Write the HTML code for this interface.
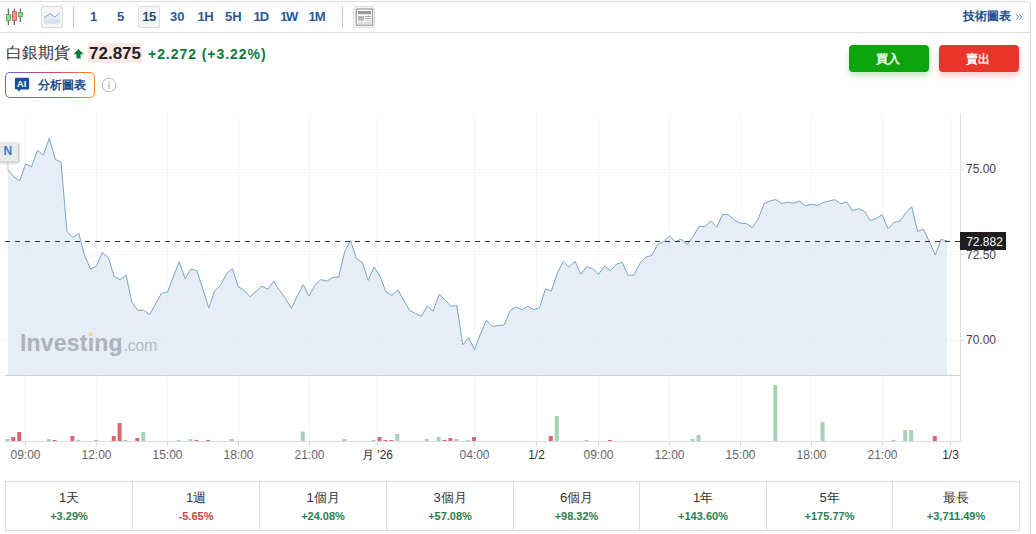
<!DOCTYPE html>
<html><head><meta charset="utf-8">
<style>
*{box-sizing:border-box;margin:0;padding:0}
html,body{width:1036px;height:534px;overflow:hidden;background:#fff}
body{font-family:"Liberation Sans",sans-serif;position:relative;color:#333}
.abs{position:absolute}
.frame{position:absolute;left:-5px;top:1px;width:1036px;height:600px;border:1px solid #dcdcdc;border-top-right-radius:5px}
.tb{position:absolute;left:0;top:32px;width:1030px;height:1px;background:#dcdcdc}
.tf{position:absolute;top:10px;font-size:13px;font-weight:bold;color:#2a5a95;line-height:13px;white-space:nowrap}
.sep{position:absolute;top:6px;width:1px;height:22px;background:#c8c8c8}
.btn15{position:absolute;left:138px;top:6px;width:22px;height:22px;border:1px solid #dcdcdc;border-radius:2px;background:#f6f6f7}
.ylab{position:absolute;left:966px;font-size:12px;color:#444;line-height:12px}
.xlab{position:absolute;top:449px;font-size:12px;color:#666;line-height:12px;white-space:nowrap;transform:translateX(-50%)}
.xlab.d{color:#333}
.cell{position:absolute;top:481px;height:50px;text-align:center}
.cell .p{font-size:13px;color:#333;margin-top:9px;line-height:15px}
.cell .v{font-size:11px;font-weight:bold;color:#2a8050;margin-top:4.5px;line-height:13px}
.cell .v.n{color:#c9453a}
</style></head><body>
<div class="frame"></div>
<div class="tb"></div>

<!-- candle icon -->
<svg class="abs" style="left:0;top:0" width="40" height="32" viewBox="0 0 40 32">
 <line x1="8.3" y1="8.5" x2="8.3" y2="25" stroke="#444" stroke-width="1"/>
 <rect x="6.4" y="14.5" width="4" height="6.2" fill="#92d992" stroke="#52a852" stroke-width="0.8"/>
 <line x1="14.3" y1="8.5" x2="14.3" y2="25" stroke="#444" stroke-width="1"/>
 <rect x="12.4" y="11.6" width="4" height="9" fill="#f79090" stroke="#d45555" stroke-width="0.8"/>
 <line x1="20.3" y1="8.5" x2="20.3" y2="22" stroke="#444" stroke-width="1"/>
 <rect x="18.4" y="12.4" width="4" height="4.3" fill="#92d992" stroke="#52a852" stroke-width="0.8"/>
</svg>
<!-- line chart button -->
<div class="abs" style="left:41px;top:6px;width:22px;height:22px;border:1px solid #dcdcdc;border-radius:2px;background:#f4f5f6"></div>
<svg class="abs" style="left:41px;top:6px" width="22" height="22" viewBox="41 6 22 22">
 <path d="M44,17.8 L50.2,13.7 L54.8,17.1 L59.8,12.7 L59.8,23.2 L44,23.2 Z" fill="#e6ecf5"/>
 <rect x="44" y="19" width="15.8" height="4.2" fill="#dae3ef"/>
 <line x1="44" y1="22.8" x2="59.8" y2="22.8" stroke="#cbd6e6" stroke-width="0.8"/>
 <path d="M44,17.8 L50.2,13.7 L54.8,17.1 L59.8,12.7" fill="none" stroke="#8aa6ca" stroke-width="1"/>
</svg>
<div class="sep" style="left:73px"></div>
<div class="btn15"></div>
<div class="tf" style="left:90px">1</div>
<div class="tf" style="left:117px">5</div>
<div class="tf" style="left:142.3px;letter-spacing:-0.6px;color:#1d4f86">15</div>
<div class="tf" style="left:170px">30</div>
<div class="tf" style="left:197.6px;letter-spacing:-0.6px">1H</div>
<div class="tf" style="left:225px">5H</div>
<div class="tf" style="left:253.4px;letter-spacing:-0.9px">1D</div>
<div class="tf" style="left:280.2px;letter-spacing:-1.4px">1W</div>
<div class="tf" style="left:308.4px;letter-spacing:-0.9px">1M</div>
<div class="sep" style="left:342px"></div>
<!-- layout icon -->
<div class="abs" style="left:353px;top:6px;width:22px;height:22px;border:1px solid #dcdcdc;border-radius:3px;background:#f4f5f6"></div>
<svg class="abs" style="left:353px;top:6px" width="22" height="22" viewBox="353 6 22 22">
 <rect x="356.3" y="9" width="16.2" height="16.2" fill="#fff" stroke="#9a9a9a" stroke-width="1.2"/>
 <rect x="358" y="11" width="13" height="3.3" fill="#9a9a9a"/>
 <rect x="358" y="16" width="5.8" height="4.8" fill="#b5b5b5"/>
 <rect x="365" y="16" width="6" height="0.9" fill="#9a9a9a"/>
 <rect x="365" y="18.1" width="6" height="0.9" fill="#9a9a9a"/>
 <rect x="365" y="20.2" width="6" height="0.9" fill="#bbb"/>
 <rect x="358" y="22.2" width="13" height="1.4" fill="#ccc"/>
</svg>
<div class="tf" style="left:962.7px;top:10px;font-size:12px;color:#1d4e8c">技術圖表</div>
<svg class="abs" style="left:1014px;top:12px" width="10" height="10" viewBox="0 0 10 10">
 <path d="M2.2,2.2 L4.6,5 L2.2,7.8 M5.2,2.2 L7.6,5 L5.2,7.8" fill="none" stroke="#4a74aa" stroke-width="0.9"/>
</svg>

<!-- title row -->
<div class="abs" style="left:6px;top:44px;font-size:16px;color:#333;line-height:18px">白銀期貨</div>
<svg class="abs" style="left:73px;top:48px" width="12" height="12" viewBox="0 0 12 12">
 <path d="M5.5,1 L10.5,6.3 L7.6,6.3 L7.6,10.5 L3.4,10.5 L3.4,6.3 L0.5,6.3 Z" fill="#0b7a34"/>
</svg>
<div class="abs" style="left:88px;top:43px;width:54px;height:20px;background:#fbe9e6"></div>
<div class="abs" style="left:89px;top:45px;font-size:17px;font-weight:bold;color:#222;line-height:17px">72.875</div>
<div class="abs" style="left:148px;top:46px;font-size:14px;font-weight:bold;color:#0b7a3a;line-height:16px;white-space:nowrap;letter-spacing:0.95px">+2.272 (+3.22%)</div>

<!-- AI button -->
<div class="abs" style="left:5px;top:72px;width:90px;height:26px;border-radius:5px;background:linear-gradient(90deg,#6c5ce7,#d9475f 55%,#f08c2c);padding:1px">
 <div style="width:100%;height:100%;background:#fff;border-radius:4px"></div>
</div>
<svg class="abs" style="left:14px;top:77px" width="16" height="16" viewBox="0 0 16 16">
 <path d="M2,0.8 L14,0.8 Q15.1,0.8 15.1,1.9 L15.1,11.3 Q15.1,12.4 14,12.4 L7,12.4 L4.2,14.8 L3.8,12.4 L2,12.4 Q0.9,12.4 0.9,11.3 L0.9,1.9 Q0.9,0.8 2,0.8 Z" fill="#1a5194"/>
 <text x="7.6" y="9.8" font-family="Liberation Sans" font-size="9.3" font-weight="bold" fill="#fff" text-anchor="middle">AI</text>
</svg>
<div class="abs" style="left:38px;top:78px;font-size:12px;font-weight:bold;color:#1d4e8c;line-height:14px">分析圖表</div>
<svg class="abs" style="left:101px;top:77px" width="16" height="16" viewBox="0 0 16 16">
 <circle cx="8" cy="8" r="6.8" fill="none" stroke="#b5b5b5" stroke-width="1"/>
 <rect x="7.4" y="6.8" width="1.3" height="5" fill="#b5b5b5"/>
 <rect x="7.4" y="4.2" width="1.3" height="1.4" fill="#b5b5b5"/>
</svg>

<!-- buy/sell -->
<div class="abs" style="left:849px;top:45px;width:80px;height:27px;border-radius:4px;background:#0ca30c;box-shadow:0 4px 6px rgba(12,163,12,0.25);color:#fff;font-weight:bold;font-size:12px;text-align:center;line-height:29px;text-indent:-3px">買入</div>
<div class="abs" style="left:939px;top:45px;width:80px;height:27px;border-radius:4px;background:#e8342a;box-shadow:0 4px 6px rgba(232,52,42,0.25);color:#fff;font-weight:bold;font-size:12px;text-align:center;line-height:29px;text-indent:-3px">賣出</div>

<!-- chart -->
<svg class="abs" style="left:0;top:0" width="1036" height="534" viewBox="0 0 1036 534">
 <g stroke="#f5f6f7" stroke-width="1">
  <line x1="25.5" y1="113" x2="25.5" y2="441"/>
  <line x1="96.5" y1="113" x2="96.5" y2="441"/>
  <line x1="167.5" y1="113" x2="167.5" y2="441"/>
  <line x1="238.5" y1="113" x2="238.5" y2="441"/>
  <line x1="309.5" y1="113" x2="309.5" y2="441"/>
  <line x1="377.5" y1="113" x2="377.5" y2="441"/>
  <line x1="474.5" y1="113" x2="474.5" y2="441"/>
  <line x1="536.5" y1="113" x2="536.5" y2="441"/>
  <line x1="598.5" y1="113" x2="598.5" y2="441"/>
  <line x1="669.5" y1="113" x2="669.5" y2="441"/>
  <line x1="740.5" y1="113" x2="740.5" y2="441"/>
  <line x1="811.5" y1="113" x2="811.5" y2="441"/>
  <line x1="882.5" y1="113" x2="882.5" y2="441"/>
  <line x1="950.5" y1="113" x2="950.5" y2="441"/>
  <line x1="0" y1="169.5" x2="960" y2="169.5"/>
  <line x1="0" y1="254.5" x2="960" y2="254.5"/>
  <line x1="0" y1="340.5" x2="960" y2="340.5"/>
 </g>
 <path d="M7.90,169.70 L13.81,176.70 L19.71,180.90 L25.62,164.10 L31.53,166.70 L37.44,150.20 L43.34,155.10 L49.25,138.20 L55.16,159.20 L61.06,162.20 L66.97,231.70 L72.88,237.40 L78.78,233.50 L84.69,255.70 L90.60,269.20 L96.51,265.90 L102.41,252.40 L108.32,257.60 L114.23,276.60 L120.13,279.60 L126.04,275.20 L131.95,302.70 L137.85,310.30 L143.76,310.20 L149.67,314.70 L155.58,303.90 L161.48,293.40 L167.39,292.20 L173.30,277.00 L179.20,261.70 L185.11,278.70 L191.02,269.00 L196.92,270.70 L202.83,289.20 L208.74,308.00 L214.65,290.70 L220.55,285.60 L226.46,273.70 L232.37,268.70 L238.27,286.70 L244.18,290.40 L250.09,296.70 L255.99,291.60 L261.90,286.20 L267.81,289.20 L273.71,281.40 L279.62,290.40 L285.53,298.70 L291.44,308.40 L297.34,295.60 L303.25,284.60 L309.16,296.10 L315.06,285.20 L320.97,279.60 L326.88,281.10 L332.78,277.40 L338.69,277.10 L344.60,252.00 L350.51,240.40 L356.41,258.70 L362.32,262.40 L368.23,280.40 L374.13,266.90 L380.04,276.40 L385.95,291.70 L391.85,295.40 L397.76,289.80 L403.67,299.90 L409.58,310.40 L415.48,313.40 L421.39,316.40 L427.30,305.90 L433.20,311.20 L439.11,294.30 L445.02,299.60 L450.92,306.40 L456.83,305.50 L462.74,344.90 L468.65,337.70 L474.55,349.60 L480.46,334.00 L486.37,320.30 L492.27,326.50 L498.18,325.50 L504.09,325.00 L510.00,310.90 L515.90,306.80 L521.81,309.60 L527.72,306.40 L533.62,309.60 L539.53,307.80 L545.44,289.00 L551.34,290.90 L557.25,273.50 L563.16,261.40 L569.06,267.10 L574.97,261.20 L580.88,274.20 L586.79,266.70 L592.69,268.70 L598.60,274.20 L604.51,266.10 L610.41,270.60 L616.32,264.20 L622.23,262.40 L628.13,275.40 L634.04,274.90 L639.95,263.40 L645.86,257.10 L651.76,255.50 L657.67,244.60 L663.58,241.60 L669.48,236.00 L675.39,241.60 L681.30,239.10 L687.20,244.60 L693.11,236.70 L699.02,226.40 L704.93,226.40 L710.83,221.10 L716.74,227.10 L722.65,214.30 L728.55,214.70 L734.46,220.20 L740.37,223.30 L746.27,223.50 L752.18,227.60 L758.09,219.20 L764.00,203.70 L769.90,201.00 L775.81,199.50 L781.72,203.70 L787.62,202.20 L793.53,203.20 L799.44,201.00 L805.35,205.70 L811.25,204.30 L817.16,205.70 L823.07,202.50 L828.97,201.00 L834.88,199.70 L840.79,203.90 L846.69,201.90 L852.60,210.70 L858.51,208.70 L864.41,211.20 L870.32,220.50 L876.23,218.40 L882.14,214.60 L888.04,228.90 L893.95,222.50 L899.86,221.30 L905.76,212.90 L911.67,206.60 L917.58,231.40 L923.49,229.20 L929.39,241.60 L935.30,255.00 L941.21,239.40 L947.11,241.00 L947.11,375 L7.90,375 Z" fill="rgb(219,229,241)" fill-opacity="0.7"/>
 <text x="20" y="351" font-family="Liberation Sans" font-size="23" font-weight="bold" fill="#abb2bb" letter-spacing="0.2">Investing</text>
 <rect x="88.9" y="332.6" width="4" height="3.2" fill="#ebdaa8"/>
 <text x="123.5" y="351" font-family="Liberation Sans" font-size="16" fill="#b3bac3" letter-spacing="-0.3">.com</text>
 <path d="M7.90,169.70 L13.81,176.70 L19.71,180.90 L25.62,164.10 L31.53,166.70 L37.44,150.20 L43.34,155.10 L49.25,138.20 L55.16,159.20 L61.06,162.20 L66.97,231.70 L72.88,237.40 L78.78,233.50 L84.69,255.70 L90.60,269.20 L96.51,265.90 L102.41,252.40 L108.32,257.60 L114.23,276.60 L120.13,279.60 L126.04,275.20 L131.95,302.70 L137.85,310.30 L143.76,310.20 L149.67,314.70 L155.58,303.90 L161.48,293.40 L167.39,292.20 L173.30,277.00 L179.20,261.70 L185.11,278.70 L191.02,269.00 L196.92,270.70 L202.83,289.20 L208.74,308.00 L214.65,290.70 L220.55,285.60 L226.46,273.70 L232.37,268.70 L238.27,286.70 L244.18,290.40 L250.09,296.70 L255.99,291.60 L261.90,286.20 L267.81,289.20 L273.71,281.40 L279.62,290.40 L285.53,298.70 L291.44,308.40 L297.34,295.60 L303.25,284.60 L309.16,296.10 L315.06,285.20 L320.97,279.60 L326.88,281.10 L332.78,277.40 L338.69,277.10 L344.60,252.00 L350.51,240.40 L356.41,258.70 L362.32,262.40 L368.23,280.40 L374.13,266.90 L380.04,276.40 L385.95,291.70 L391.85,295.40 L397.76,289.80 L403.67,299.90 L409.58,310.40 L415.48,313.40 L421.39,316.40 L427.30,305.90 L433.20,311.20 L439.11,294.30 L445.02,299.60 L450.92,306.40 L456.83,305.50 L462.74,344.90 L468.65,337.70 L474.55,349.60 L480.46,334.00 L486.37,320.30 L492.27,326.50 L498.18,325.50 L504.09,325.00 L510.00,310.90 L515.90,306.80 L521.81,309.60 L527.72,306.40 L533.62,309.60 L539.53,307.80 L545.44,289.00 L551.34,290.90 L557.25,273.50 L563.16,261.40 L569.06,267.10 L574.97,261.20 L580.88,274.20 L586.79,266.70 L592.69,268.70 L598.60,274.20 L604.51,266.10 L610.41,270.60 L616.32,264.20 L622.23,262.40 L628.13,275.40 L634.04,274.90 L639.95,263.40 L645.86,257.10 L651.76,255.50 L657.67,244.60 L663.58,241.60 L669.48,236.00 L675.39,241.60 L681.30,239.10 L687.20,244.60 L693.11,236.70 L699.02,226.40 L704.93,226.40 L710.83,221.10 L716.74,227.10 L722.65,214.30 L728.55,214.70 L734.46,220.20 L740.37,223.30 L746.27,223.50 L752.18,227.60 L758.09,219.20 L764.00,203.70 L769.90,201.00 L775.81,199.50 L781.72,203.70 L787.62,202.20 L793.53,203.20 L799.44,201.00 L805.35,205.70 L811.25,204.30 L817.16,205.70 L823.07,202.50 L828.97,201.00 L834.88,199.70 L840.79,203.90 L846.69,201.90 L852.60,210.70 L858.51,208.70 L864.41,211.20 L870.32,220.50 L876.23,218.40 L882.14,214.60 L888.04,228.90 L893.95,222.50 L899.86,221.30 L905.76,212.90 L911.67,206.60 L917.58,231.40 L923.49,229.20 L929.39,241.60 L935.30,255.00 L941.21,239.40 L947.11,241.00" fill="none" stroke="#78a3cb" stroke-width="1" stroke-linejoin="round"/>
 <line x1="5" y1="241.5" x2="960" y2="241.5" stroke="#333" stroke-width="1" stroke-dasharray="5,5"/>
 <g stroke-width="1">
  <line x1="960.5" y1="113" x2="960.5" y2="441.5" stroke="#dcdfe2"/>
  <line x1="5" y1="375.5" x2="960" y2="375.5" stroke="#cdd0d4"/>
  <line x1="5" y1="441.5" x2="960.5" y2="441.5" stroke="#d9dce0"/>
 </g>
 <g stroke="#d3d6da" stroke-width="1">
  <line x1="961" y1="169.5" x2="964" y2="169.5"/>
  <line x1="961" y1="254.5" x2="964" y2="254.5"/>
  <line x1="961" y1="340.5" x2="964" y2="340.5"/>
  <line x1="25.5" y1="442" x2="25.5" y2="446"/>
  <line x1="96.5" y1="442" x2="96.5" y2="446"/>
  <line x1="167.5" y1="442" x2="167.5" y2="446"/>
  <line x1="238.5" y1="442" x2="238.5" y2="446"/>
  <line x1="309.5" y1="442" x2="309.5" y2="446"/>
  <line x1="377.5" y1="442" x2="377.5" y2="446"/>
  <line x1="474.5" y1="442" x2="474.5" y2="446"/>
  <line x1="536.5" y1="442" x2="536.5" y2="446"/>
  <line x1="598.5" y1="442" x2="598.5" y2="446"/>
  <line x1="669.5" y1="442" x2="669.5" y2="446"/>
  <line x1="740.5" y1="442" x2="740.5" y2="446"/>
  <line x1="811.5" y1="442" x2="811.5" y2="446"/>
  <line x1="882.5" y1="442" x2="882.5" y2="446"/>
  <line x1="950.5" y1="442" x2="950.5" y2="446"/>
 </g>
 <rect x="5.40" y="439.00" width="4" height="2.00" fill="#a5d2b3"/>
<rect x="11.31" y="437.00" width="4" height="4.00" fill="#d9686a"/>
<rect x="17.21" y="432.00" width="4" height="9.00" fill="#d9686a"/>
<rect x="46.75" y="439.00" width="4" height="2.00" fill="#a5d2b3"/>
<rect x="52.66" y="440.00" width="4" height="1.00" fill="#d9686a"/>
<rect x="70.38" y="436.00" width="4" height="5.00" fill="#d9686a"/>
<rect x="76.28" y="440.00" width="4" height="1.00" fill="#a5d2b3"/>
<rect x="94.01" y="440.00" width="4" height="1.00" fill="#a5d2b3"/>
<rect x="111.73" y="436.00" width="4" height="5.00" fill="#d9686a"/>
<rect x="117.63" y="423.00" width="4" height="18.00" fill="#d9686a"/>
<rect x="123.54" y="440.00" width="4" height="1.00" fill="#a5d2b3"/>
<rect x="135.35" y="438.00" width="4" height="3.00" fill="#d9686a"/>
<rect x="141.26" y="432.00" width="4" height="9.00" fill="#a5d2b3"/>
<rect x="176.70" y="440.00" width="4" height="1.00" fill="#a5d2b3"/>
<rect x="188.52" y="439.00" width="4" height="2.00" fill="#a5d2b3"/>
<rect x="194.42" y="440.00" width="4" height="1.00" fill="#d9686a"/>
<rect x="206.24" y="440.00" width="4" height="1.00" fill="#d9686a"/>
<rect x="229.87" y="439.00" width="4" height="2.00" fill="#a5d2b3"/>
<rect x="300.75" y="431.50" width="4" height="9.50" fill="#a5d2b3"/>
<rect x="342.10" y="439.00" width="4" height="2.00" fill="#a5d2b3"/>
<rect x="371.63" y="440.00" width="4" height="1.00" fill="#a5d2b3"/>
<rect x="377.54" y="437.00" width="4" height="4.00" fill="#d9686a"/>
<rect x="383.45" y="440.00" width="4" height="1.00" fill="#d9686a"/>
<rect x="389.35" y="440.00" width="4" height="1.00" fill="#d9686a"/>
<rect x="395.26" y="434.00" width="4" height="7.00" fill="#a5d2b3"/>
<rect x="424.80" y="439.00" width="4" height="2.00" fill="#a5d2b3"/>
<rect x="436.61" y="437.00" width="4" height="4.00" fill="#a5d2b3"/>
<rect x="442.52" y="440.00" width="4" height="1.00" fill="#d9686a"/>
<rect x="448.42" y="438.00" width="4" height="3.00" fill="#d9686a"/>
<rect x="454.33" y="439.00" width="4" height="2.00" fill="#a5d2b3"/>
<rect x="466.15" y="440.00" width="4" height="1.00" fill="#a5d2b3"/>
<rect x="472.05" y="437.00" width="4" height="4.00" fill="#d9686a"/>
<rect x="548.84" y="436.00" width="4" height="5.00" fill="#d9686a"/>
<rect x="554.75" y="416.00" width="4" height="25.00" fill="#a5d2b3"/>
<rect x="584.29" y="440.00" width="4" height="1.00" fill="#a5d2b3"/>
<rect x="607.91" y="440.00" width="4" height="1.00" fill="#d9686a"/>
<rect x="690.61" y="439.00" width="4" height="2.00" fill="#a5d2b3"/>
<rect x="696.52" y="435.00" width="4" height="6.00" fill="#a5d2b3"/>
<rect x="773.31" y="385.00" width="4" height="56.00" fill="#a5d2b3"/>
<rect x="820.57" y="422.00" width="4" height="19.00" fill="#a5d2b3"/>
<rect x="891.45" y="440.00" width="4" height="1.00" fill="#a5d2b3"/>
<rect x="903.26" y="430.00" width="4" height="11.00" fill="#a5d2b3"/>
<rect x="909.17" y="430.00" width="4" height="11.00" fill="#a5d2b3"/>
<rect x="932.80" y="436.00" width="4" height="5.00" fill="#d9686a"/>
 <!-- N tag -->
 <line x1="7.9" y1="161" x2="7.9" y2="169.5" stroke="#e0e0e0" stroke-width="1.5"/>
 <rect x="-2" y="142.5" width="20" height="19" fill="#e9e9e9" style="filter:drop-shadow(1.5px 1.5px 1.5px rgba(0,0,0,0.3))"/>
 <text x="7.8" y="155.4" font-family="Liberation Sans" font-size="12" font-weight="bold" fill="#3b7cc0" text-anchor="middle">N</text>
 <!-- price label -->
 <rect x="960" y="232" width="46" height="18" fill="#1e1e1e"/>
 <text x="984.5" y="245.7" font-family="Liberation Sans" font-size="12" fill="#fff" text-anchor="middle">72.882</text>
</svg>
<div class="ylab" style="top:163px">75.00</div>
<div class="ylab" style="top:248.5px">72.50</div>
<div class="ylab" style="top:333.8px">70.00</div>

<div class="xlab" style="left:25.5px">09:00</div>
<div class="xlab" style="left:96.5px">12:00</div>
<div class="xlab" style="left:167.5px">15:00</div>
<div class="xlab" style="left:238.5px">18:00</div>
<div class="xlab" style="left:309.5px">21:00</div>
<div class="xlab d" style="left:377.5px">月 '26</div>
<div class="xlab" style="left:474.5px">04:00</div>
<div class="xlab d" style="left:536.5px">1/2</div>
<div class="xlab" style="left:598.5px">09:00</div>
<div class="xlab" style="left:669.5px">12:00</div>
<div class="xlab" style="left:740.5px">15:00</div>
<div class="xlab" style="left:811.5px">18:00</div>
<div class="xlab" style="left:882.5px">21:00</div>
<div class="xlab d" style="left:950.5px">1/3</div>

<!-- bottom table -->
<div class="abs" style="left:5px;top:481px;width:1015px;height:50px;border:1px solid #dcdcdc"></div>
<div class="abs" style="left:132px;top:481px;width:1px;height:50px;background:#dcdcdc"></div>
<div class="abs" style="left:259px;top:481px;width:1px;height:50px;background:#dcdcdc"></div>
<div class="abs" style="left:386px;top:481px;width:1px;height:50px;background:#dcdcdc"></div>
<div class="abs" style="left:513px;top:481px;width:1px;height:50px;background:#dcdcdc"></div>
<div class="abs" style="left:639px;top:481px;width:1px;height:50px;background:#dcdcdc"></div>
<div class="abs" style="left:766px;top:481px;width:1px;height:50px;background:#dcdcdc"></div>
<div class="abs" style="left:892px;top:481px;width:1px;height:50px;background:#dcdcdc"></div>
<div class="cell" style="left:6px;width:126px"><div class="p">1天</div><div class="v">+3.29%</div></div>
<div class="cell" style="left:133px;width:126px"><div class="p">1週</div><div class="v n">-5.65%</div></div>
<div class="cell" style="left:260px;width:126px"><div class="p">1個月</div><div class="v">+24.08%</div></div>
<div class="cell" style="left:387px;width:126px"><div class="p">3個月</div><div class="v">+57.08%</div></div>
<div class="cell" style="left:514px;width:125px"><div class="p">6個月</div><div class="v">+98.32%</div></div>
<div class="cell" style="left:640px;width:126px"><div class="p">1年</div><div class="v">+143.60%</div></div>
<div class="cell" style="left:767px;width:125px"><div class="p">5年</div><div class="v">+175.77%</div></div>
<div class="cell" style="left:893px;width:126px"><div class="p">最長</div><div class="v">+3,711.49%</div></div>
</body></html>
